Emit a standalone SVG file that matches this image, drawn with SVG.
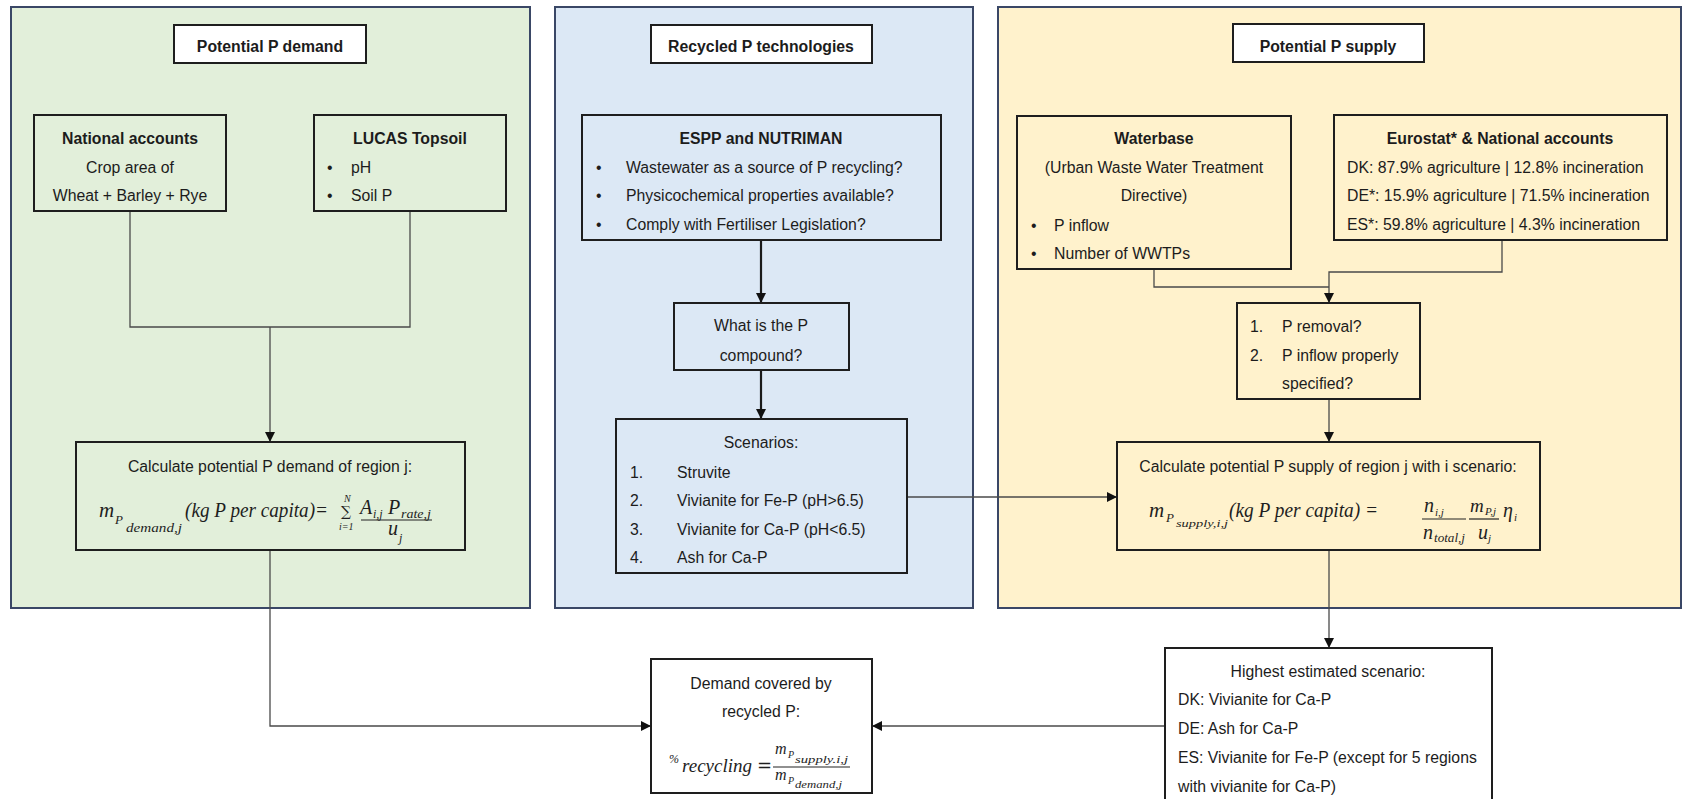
<svg xmlns="http://www.w3.org/2000/svg" width="1683" height="799" viewBox="0 0 1683 799">
  <defs>
    <style>
      .panel { stroke: #3A4766; stroke-width: 2; }
      .box { fill: none; stroke: #1e1e1e; stroke-width: 2; }
      .wbox { fill: #ffffff; stroke: #1e1e1e; stroke-width: 2; }
      text { font-family: "Liberation Sans", Arial, sans-serif; font-size: 15.8px; fill: #1c1c1c; }
      .b { font-weight: bold; }
      .c { text-anchor: middle; }
      text.m { font-family: "Liberation Serif", "Times New Roman", serif; font-style: italic; fill: #1e1e1e; }
      text.mn { font-family: "DejaVu Serif", "Liberation Serif", serif; fill: #1e1e1e; }
      .thin { fill: none; stroke: #4a4a4a; stroke-width: 1.3; }
      .thick { fill: none; stroke: #1a1a1a; stroke-width: 2.2; }
      .bar { stroke: #222; stroke-width: 1.2; }
    </style>
    <marker id="arr" viewBox="0 0 10 10" refX="10" refY="5" markerWidth="10" markerHeight="10" markerUnits="userSpaceOnUse" orient="auto">
      <path d="M0,0 L10,5 L0,10 z" fill="#111"/>
    </marker>
  </defs>

  <!-- Panels -->
  <g id="panel-demand"><rect class="panel" x="11" y="7" width="519" height="601" fill="#E2EFDA"/></g>
  <g id="panel-tech"><rect class="panel" x="555" y="7" width="418" height="601" fill="#DCE8F5"/></g>
  <g id="panel-supply"><rect class="panel" x="998" y="7" width="683" height="601" fill="#FFF2CC"/></g>

  <!-- Connectors -->
  <g id="connectors">
    <path class="thin" d="M130,211 V327 H410 V211"/>
    <path class="thin" d="M270,327 V442" marker-end="url(#arr)"/>
    <path class="thick" d="M761,240 V303" marker-end="url(#arr)"/>
    <path class="thick" d="M761,370 V419" marker-end="url(#arr)"/>
    <path class="thin" d="M907,497 H1117" marker-end="url(#arr)"/>
    <path class="thin" d="M1154,269 V287 H1329"/>
    <path class="thin" d="M1502,240 V272 H1329 V303" marker-end="url(#arr)"/>
    <path class="thin" d="M1329,399 V442" marker-end="url(#arr)"/>
    <path class="thin" d="M270,550 V726 H651" marker-end="url(#arr)"/>
    <path class="thin" d="M1329,550 V648" marker-end="url(#arr)"/>
    <path class="thin" d="M1165,726 H872" marker-end="url(#arr)"/>
  </g>

  <!-- Titles -->
  <g id="title-demand">
    <rect class="wbox" x="174" y="25" width="192" height="38"/>
    <text class="b c" x="270" y="52">Potential P demand</text>
  </g>
  <g id="title-tech">
    <rect class="wbox" x="651" y="25" width="221" height="38"/>
    <text class="b c" x="761" y="52">Recycled P technologies</text>
  </g>
  <g id="title-supply">
    <rect class="wbox" x="1233" y="24" width="191" height="38"/>
    <text class="b c" x="1328" y="52">Potential P supply</text>
  </g>

  <!-- Demand panel nodes -->
  <g id="national-accounts">
    <rect class="box" x="34" y="115" width="192" height="96"/>
    <text class="b c" x="130" y="143.5">National accounts</text>
    <text class="c" x="130" y="172.5">Crop area of</text>
    <text class="c" x="130" y="201">Wheat + Barley + Rye</text>
  </g>
  <g id="lucas-topsoil">
    <rect class="box" x="314" y="115" width="192" height="96"/>
    <text class="b c" x="410" y="143.5">LUCAS Topsoil</text>
    <text x="327" y="172.5">•</text><text x="351" y="172.5">pH</text>
    <text x="327" y="201">•</text><text x="351" y="201">Soil P</text>
  </g>
  <g id="calc-demand">
    <rect class="box" x="76" y="442" width="389" height="108"/>
    <text class="c" x="270" y="471.5">Calculate potential P demand of region j:</text>
    <text class="m" x="99" y="517" style="font-size:21px">m</text>
    <text class="m" x="115" y="524" style="font-size:13px">P</text>
    <text class="m" x="126" y="532" style="font-size:12px" textLength="56" lengthAdjust="spacingAndGlyphs">demand,j</text>
    <text class="m" x="185" y="517" style="font-size:20px" textLength="143" lengthAdjust="spacingAndGlyphs">(kg P per capita)=</text>
    <text class="m" x="344" y="502" style="font-size:10px">N</text>
    <text class="mn" x="341" y="516" style="font-size:14px">∑</text>
    <text class="m" x="339" y="530" style="font-size:10px">i=1</text>
    <text class="m" x="360" y="514" style="font-size:20px">A</text>
    <text class="m" x="373" y="518" style="font-size:12px">i,j</text>
    <text class="m" x="388" y="514" style="font-size:20px">P</text>
    <text class="m" x="401" y="518" style="font-size:12px" textLength="30" lengthAdjust="spacingAndGlyphs">rate,j</text>
    <line class="bar" x1="361" y1="520" x2="432" y2="520"/>
    <text class="m" x="388" y="535" style="font-size:20px">u</text>
    <text class="m" x="399" y="542" style="font-size:12px">j</text>
  </g>
  <g id="demand-covered">
    <rect class="wbox" x="651" y="659" width="221" height="134" stroke-width="3.5"/>
    <text class="c" x="761" y="688.5">Demand covered by</text>
    <text class="c" x="761" y="717">recycled P:</text>
    <text class="m" x="669" y="763" style="font-size:12px">%</text>
    <text class="m" x="682" y="772" style="font-size:19px" textLength="70" lengthAdjust="spacingAndGlyphs">recycling</text>
    <text class="mn" x="757" y="772" style="font-size:18px">=</text>
    <text class="m" x="775" y="754" style="font-size:16px">m</text>
    <text class="m" x="788" y="758" style="font-size:10px">P</text>
    <text class="m" x="795" y="763" style="font-size:11px" textLength="53" lengthAdjust="spacingAndGlyphs">supply.i,j</text>
    <line class="bar" x1="773" y1="767" x2="850" y2="767"/>
    <text class="m" x="775" y="780" style="font-size:16px">m</text>
    <text class="m" x="788" y="784" style="font-size:10px">P</text>
    <text class="m" x="795" y="788" style="font-size:11px" textLength="47" lengthAdjust="spacingAndGlyphs">demand,j</text>
  </g>

  <!-- Technology panel nodes -->
  <g id="espp-nutriman">
    <rect class="box" x="582" y="115" width="359" height="125"/>
    <text class="b c" x="761" y="143.5">ESPP and NUTRIMAN</text>
    <text x="596" y="172.5">•</text><text x="626" y="172.5">Wastewater as a source of P recycling?</text>
    <text x="596" y="201">•</text><text x="626" y="201">Physicochemical properties available?</text>
    <text x="596" y="229.5">•</text><text x="626" y="229.5">Comply with Fertiliser Legislation?</text>
  </g>
  <g id="what-compound">
    <rect class="box" x="674" y="303" width="175" height="67"/>
    <text class="c" x="761" y="331">What is the P</text>
    <text class="c" x="761" y="361">compound?</text>
  </g>
  <g id="scenarios">
    <rect class="box" x="616" y="419" width="291" height="154"/>
    <text class="c" x="761" y="448">Scenarios:</text>
    <text x="630" y="477.5">1.</text><text x="677" y="477.5">Struvite</text>
    <text x="630" y="506">2.</text><text x="677" y="506">Vivianite for Fe-P (pH&gt;6.5)</text>
    <text x="630" y="535">3.</text><text x="677" y="535">Vivianite for Ca-P (pH&lt;6.5)</text>
    <text x="630" y="563">4.</text><text x="677" y="563">Ash for Ca-P</text>
  </g>

  <!-- Supply panel nodes -->
  <g id="waterbase">
    <rect class="box" x="1017" y="116" width="274" height="153"/>
    <text class="b c" x="1154" y="143.5">Waterbase</text>
    <text class="c" x="1154" y="172.5">(Urban Waste Water Treatment</text>
    <text class="c" x="1154" y="201">Directive)</text>
    <text x="1031" y="230.5">•</text><text x="1054" y="230.5">P inflow</text>
    <text x="1031" y="259">•</text><text x="1054" y="259">Number of WWTPs</text>
  </g>
  <g id="eurostat">
    <rect class="box" x="1334" y="115" width="333" height="125"/>
    <text class="b c" x="1500" y="143.5">Eurostat* &amp; National accounts</text>
    <text x="1347" y="172.5">DK: 87.9% agriculture | 12.8% incineration</text>
    <text x="1347" y="201">DE*: 15.9% agriculture | 71.5% incineration</text>
    <text x="1347" y="229.5">ES*: 59.8% agriculture | 4.3% incineration</text>
  </g>
  <g id="p-removal">
    <rect class="box" x="1237" y="303" width="183" height="96"/>
    <text x="1250" y="332">1.</text><text x="1282" y="332">P removal?</text>
    <text x="1250" y="361">2.</text><text x="1282" y="361">P inflow properly</text>
    <text x="1282" y="389">specified?</text>
  </g>
  <g id="calc-supply">
    <rect class="box" x="1117" y="442" width="423" height="108"/>
    <text class="c" x="1328" y="471.5">Calculate potential P supply of region j with i scenario:</text>
    <text class="m" x="1149" y="517" style="font-size:21px">m</text>
    <text class="m" x="1166" y="522" style="font-size:13px">P</text>
    <text class="m" x="1176" y="527" style="font-size:11px" textLength="52" lengthAdjust="spacingAndGlyphs">supply,i,j</text>
    <text class="m" x="1229" y="517" style="font-size:20px" textLength="149" lengthAdjust="spacingAndGlyphs">(kg P per capita) =</text>
    <text class="m" x="1424" y="512" style="font-size:20px">n</text>
    <text class="m" x="1435" y="516" style="font-size:11px">i,j</text>
    <line class="bar" x1="1422" y1="519" x2="1466" y2="519"/>
    <text class="m" x="1423" y="539" style="font-size:20px">n</text>
    <text class="m" x="1434" y="542" style="font-size:12px" textLength="31" lengthAdjust="spacingAndGlyphs">total,j</text>
    <text class="m" x="1470" y="512" style="font-size:19px">m</text>
    <text class="m" x="1485" y="515" style="font-size:11px">P,j</text>
    <line class="bar" x1="1469" y1="519" x2="1499" y2="519"/>
    <text class="m" x="1478" y="539" style="font-size:20px">u</text>
    <text class="m" x="1488" y="542" style="font-size:11px">j</text>
    <text class="m" x="1503" y="517" style="font-size:20px">η</text>
    <text class="m" x="1514" y="521" style="font-size:11px">i</text>
  </g>
  <g id="highest-scenario">
    <rect class="wbox" x="1165" y="648" width="327" height="160" stroke-width="1.6"/>
    <text class="c" x="1328" y="677">Highest estimated scenario:</text>
    <text x="1178" y="705">DK: Vivianite for Ca-P</text>
    <text x="1178" y="734">DE: Ash for Ca-P</text>
    <text x="1178" y="762.5">ES: Vivianite for Fe-P (except for 5 regions</text>
    <text x="1178" y="791.5">with vivianite for Ca-P)</text>
  </g>
</svg>
